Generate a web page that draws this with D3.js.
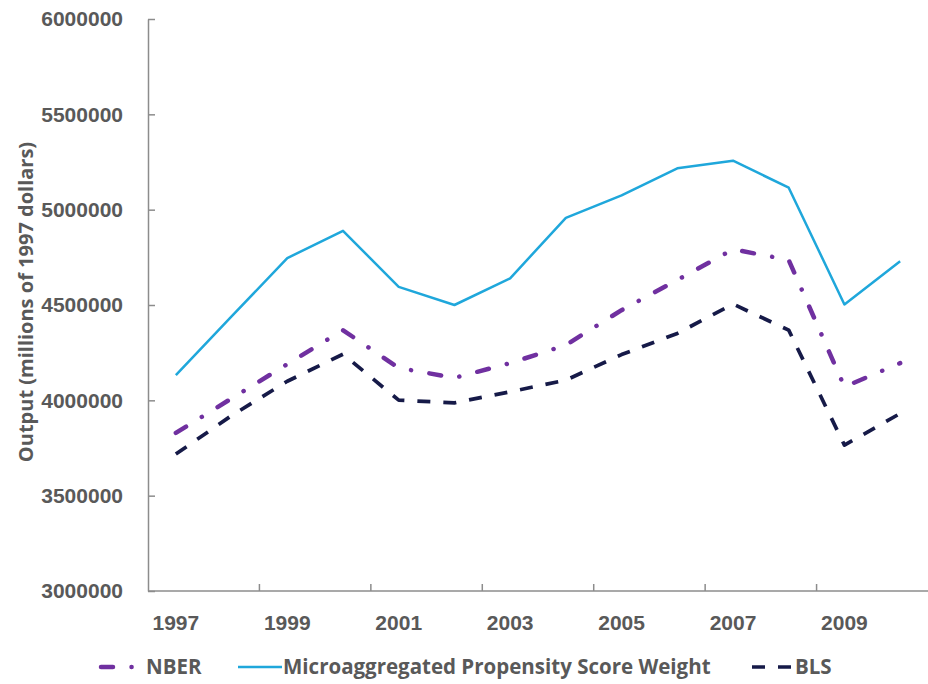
<!doctype html>
<html>
  <head>
    <script src="https://cdn.jsdelivr.net/npm/d3@7/dist/d3.min.js"></script>
    <style>
      body, html {
        margin: 0;
        background: #fff;
      }
      svg {
        display: block;
        font-family: "Open Sans", sans-serif;
        font-weight: 700;
      }
      .axis path, .axis line {
        stroke: #8c8c8c;
        stroke-width: 1.5px;
      }
      .axis text {
        fill: #595959;
      }
      path.series {
        fill: none;
        stroke-linejoin: round;
      }
    </style>
  </head>
  <body>
    <svg width="928" height="684"></svg>
    <script>
      var years = [1997, 1998, 1999, 2000, 2001, 2002, 2003, 2004, 2005, 2006, 2007, 2008, 2009, 2010];
      var yTicks = [3000000, 3500000, 4000000, 4500000, 5000000, 5500000, 6000000];
      var xLabels = [1997, 1999, 2001, 2003, 2005, 2007, 2009];

      var nber = [3829000, 4010000, 4190000, 4368000, 4170000, 4118000, 4195000, 4290000, 4473000, 4631000, 4792000, 4736000, 4071000, 4195000];
      var mpsw = [4132000, 4440000, 4746000, 4889000, 4595000, 4500000, 4640000, 4957000, 5075000, 5217000, 5257000, 5115000, 4503000, 4730000];
      var bls = [3718000, 3920000, 4100000, 4242000, 4001000, 3987000, 4045000, 4106000, 4240000, 4351000, 4505000, 4368000, 3765000, 3931000];

      var series = [
        {name: "NBER", values: nber, color: "#7030a0", width: 4.5, dash: "12,18.5,0.1,18.5", cap: "round"},
        {name: "Microaggregated Propensity Score Weight", values: mpsw, color: "#1fa7db", width: 2.5, dash: null, cap: "butt"},
        {name: "BLS", values: bls, color: "#161a48", width: 3.7, dash: "13,13", cap: "butt"}
      ];

      var svg = d3.select("svg");
      var plotL = 148, plotR = 928, plotT = 19, plotB = 591;

      var x = d3.scaleBand().domain(years).range([plotL, plotR]);
      var y = d3.scaleLinear().domain([3000000, 6000000]).range([plotB, plotT]);

      // y axis, ticks point inward
      svg.append("g")
        .attr("class", "axis")
        .attr("transform", "translate(" + plotL + ",0)")
        .call(d3.axisLeft(y).tickValues(yTicks).tickFormat(d3.format("d"))
          .tickSize(-7).tickPadding(25).tickSizeOuter(0))
        .selectAll("text")
          .style("font-size", "21px");

      // x axis line + labels at category centers
      var xg = svg.append("g")
        .attr("class", "axis")
        .attr("transform", "translate(0," + plotB + ")")
        .call(d3.axisBottom(x).tickValues(xLabels).tickSize(0).tickPadding(24).tickSizeOuter(0));
      xg.selectAll("text").style("font-size", "21px");
      xg.select("path.domain").attr("d", "M" + plotL + ",0H" + plotR);

      // tick marks between categories, every second one
      xg.selectAll("line.between")
        .data(years.filter((d, i) => i > 0 && i % 2 == 0))
        .enter()
        .append("line")
          .attr("class", "between")
          .attr("x1", d => x(d))
          .attr("x2", d => x(d))
          .attr("y1", 0)
          .attr("y2", -7);

      var line = d3.line()
        .x((d, i) => x(years[i]) + x.bandwidth() / 2)
        .y(d => y(d));

      svg.selectAll("path.series")
        .data(series)
        .enter()
        .append("path")
          .attr("class", "series")
          .attr("d", d => line(d.values))
          .attr("stroke", d => d.color)
          .attr("stroke-width", d => d.width)
          .attr("stroke-dasharray", d => d.dash)
          .attr("stroke-linecap", d => d.cap);

      // y axis title
      svg.append("text")
        .attr("transform", "translate(33,302) rotate(-90)")
        .attr("text-anchor", "middle")
        .style("font-size", "20px")
        .attr("fill", "#595959")
        .text("Output (millions of 1997 dollars)");

      // legend
      var legendY = 667;
      var legend = [
        {s: series[0], x1: 101, x2: 135, tx: 146},
        {s: series[1], x1: 238, x2: 282, tx: 283},
        {s: series[2], x1: 752, x2: 792, tx: 795}
      ];
      var lg = svg.selectAll("g.legend")
        .data(legend)
        .enter()
        .append("g")
          .attr("class", "legend");
      lg.append("path")
        .attr("d", d => "M" + d.x1 + "," + legendY + "H" + d.x2)
        .attr("stroke", d => d.s.color)
        .attr("stroke-width", d => d.s.width)
        .attr("stroke-linecap", d => d.s.cap)
        .attr("stroke-dasharray", (d, i) => i == 0 ? "12,18.5,0.1,40" : d.s.dash);
      lg.append("text")
        .attr("x", d => d.tx)
        .attr("y", legendY)
        .attr("dy", "0.36em")
        .style("font-size", "20.5px")
        .attr("fill", "#595959")
        .text(d => d.s.name);
    </script>
  </body>
</html>
